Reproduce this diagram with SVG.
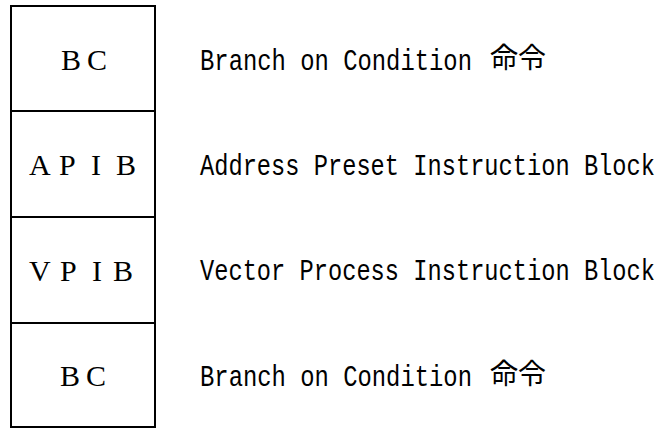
<svg xmlns="http://www.w3.org/2000/svg" width="666" height="429" viewBox="0 0 666 429">
<style>
.box{fill:#fff;stroke:#000;stroke-width:2}
.lbl{font-family:"Liberation Serif",serif;font-size:30px;fill:#000}
.desc{font-family:"Liberation Mono","DejaVu Sans Mono",monospace;font-size:24px;fill:#000}
.cjk{font-family:"Noto Sans CJK JP","Noto Sans CJK SC",sans-serif;font-size:28px;fill:#000}
</style>
<rect width="666" height="429" fill="#fff"/>
<g id="node-bc1">
<rect class="box" x="11" y="6" width="144" height="105"/>
<text class="lbl" x="61 87" y="70">BC</text>
</g>
<g id="node-apib">
<rect class="box" x="11" y="111" width="144" height="106"/>
<text class="lbl" x="29 59 91 116" y="175">APIB</text>
</g>
<g id="node-vpib">
<rect class="box" x="11" y="217" width="144" height="106"/>
<text class="lbl" x="29 60 92 113" y="281">VPIB</text>
</g>
<g id="node-bc2">
<rect class="box" x="11" y="323" width="144" height="104"/>
<text class="lbl" x="60 86" y="386">BC</text>
</g>
<g id="descriptions">
<text class="desc" transform="translate(200,70) scale(1,1.25)" x="0" y="0" textLength="272" lengthAdjust="spacingAndGlyphs">Branch on Condition</text>
<text class="cjk" x="490" y="68">命令</text>
<text class="desc" transform="translate(200,175) scale(1,1.25)" x="0" y="0" textLength="455" lengthAdjust="spacingAndGlyphs">Address Preset Instruction Block</text>
<text class="desc" transform="translate(200,280) scale(1,1.25)" x="0" y="0" textLength="455" lengthAdjust="spacingAndGlyphs">Vector Process Instruction Block</text>
<text class="desc" transform="translate(200,386) scale(1,1.25)" x="0" y="0" textLength="272" lengthAdjust="spacingAndGlyphs">Branch on Condition</text>
<text class="cjk" x="490" y="384">命令</text>
</g>
<g id="connectors"></g>
</svg>
